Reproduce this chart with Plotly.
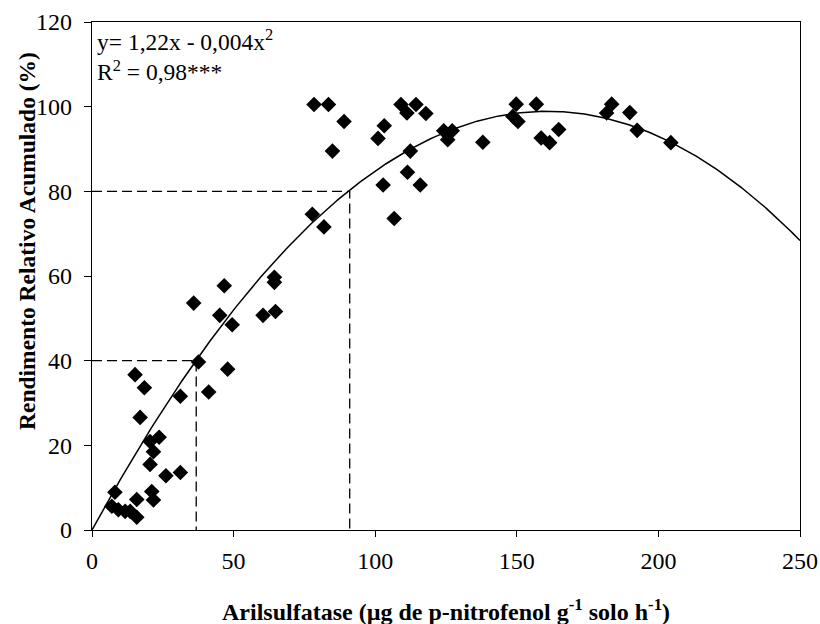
import numpy as np
import plotly.graph_objects as go

# Observed data (arilsulfatase vs relative yield)
arilsulfatase = [7.0, 8.1, 9.3, 11.7, 13.5, 15.8, 15.8, 15.2, 17.0, 18.5,
                 20.5, 20.5, 21.7, 21.1, 21.7, 23.7, 26.1, 31.2, 31.2, 35.9,
                 37.6, 41.2, 45.1, 46.7, 47.9, 49.5, 60.4, 64.4, 64.4, 64.8,
                 77.8, 78.4, 81.9, 83.5, 84.9, 89.0, 101.0, 102.8, 103.2, 106.7,
                 109.1, 111.2, 111.4, 112.4, 114.4, 115.9, 117.9, 124.2, 125.6, 127.2,
                 138.0, 148.6, 149.8, 150.4, 156.9, 158.6, 161.6, 164.8, 181.7, 183.5,
                 189.9, 192.5, 204.4]
rendimento = [5.6, 8.9, 4.8, 4.4, 4.4, 3.0, 7.2, 36.7, 26.6, 33.6,
              20.9, 15.5, 18.5, 9.1, 7.1, 21.9, 12.8, 13.6, 31.6, 53.6,
              39.7, 32.6, 50.7, 57.7, 38.0, 48.5, 50.7, 59.7, 58.5, 51.6,
              74.6, 100.5, 71.6, 100.5, 89.5, 96.5, 92.5, 81.5, 95.5, 73.6,
              100.5, 98.5, 84.5, 89.5, 100.5, 81.5, 98.4, 94.3, 92.2, 94.3,
              91.6, 97.7, 100.6, 96.5, 100.6, 92.6, 91.5, 94.6, 98.5, 100.6,
              98.6, 94.4, 91.5]

# Fitted quadratic (as drawn)
coef_a = 1.231
coef_b = 0.00383
x_fit = np.linspace(0, 250, 300)
y_fit = coef_a * x_fit - coef_b * x_fit ** 2

# Reference guide values
guide_x = [36.8, 91.0]
guide_y = [40, 80]

x_ticks = [0, 50, 100, 150, 200, 250]
y_ticks = [0, 20, 40, 60, 80, 100, 120]

FONT = "Liberation Serif"
L, R, T, B = 92, 20, 22, 94
PW = 820 - L - R
PH = 624 - T - B

fig = go.Figure()

for gx, gy in zip(guide_x, guide_y):
    fig.add_trace(go.Scatter(x=[0, gx, gx], y=[gy, gy, 0], mode="lines",
                             line=dict(color="black", width=1.3, dash="10px,5px"),
                             hoverinfo="skip", showlegend=False))

fig.add_trace(go.Scatter(x=x_fit, y=y_fit, mode="lines",
                         line=dict(color="black", width=1.5), showlegend=False))

fig.add_trace(go.Scatter(x=arilsulfatase, y=rendimento, mode="markers",
                         marker=dict(symbol="diamond", size=12, color="black"),
                         showlegend=False))

fig.add_annotation(x=0, y=1, xref="paper", yref="paper", xanchor="left", yanchor="top",
                   xshift=3, yshift=-1, align="left", showarrow=False,
                   text="y= 1,22x - 0,004x<sup>2</sup><br>R<sup>2</sup> = 0,98***",
                   font=dict(family=FONT, size=23.5, color="black"))

# Axis titles
fig.add_annotation(x=0.5, y=-(610 - (624 - B)) / PH, xref="paper", yref="paper",
                   xanchor="center", yanchor="middle", showarrow=False,
                   text="<b>Arilsulfatase (µg de p-nitrofenol g<sup>-1</sup> solo h<sup>-1</sup>)</b>",
                   font=dict(family=FONT, size=24, color="black"))
fig.add_annotation(x=-(L - 27) / PW, y=((624 - B) - 241) / PH, xref="paper", yref="paper",
                   xanchor="center", yanchor="middle", showarrow=False, textangle=-90,
                   text="<b>Rendimento Relativo Acumulado (%)</b>",
                   font=dict(family=FONT, size=23.5, color="black"))

fig.update_xaxes(range=[0, 250], tickvals=x_ticks, ticks="outside", ticklen=6,
                 tickcolor="black", showline=True, linecolor="black", linewidth=1.4,
                 mirror=True, showgrid=False, zeroline=False, ticklabelstandoff=3,
                 tickfont=dict(family=FONT, size=24, color="black"))
fig.update_yaxes(range=[0, 120], tickvals=y_ticks, ticks="outside", ticklen=7,
                 tickcolor="black", showline=True, linecolor="black", linewidth=1.4,
                 mirror=True, showgrid=False, zeroline=False, ticklabelstandoff=7,
                 tickfont=dict(family=FONT, size=24, color="black"))

fig.update_layout(width=820, height=624, margin=dict(l=L, r=R, t=T, b=B, autoexpand=False),
                  plot_bgcolor="white", paper_bgcolor="white")

fig.write_html("out.html")
